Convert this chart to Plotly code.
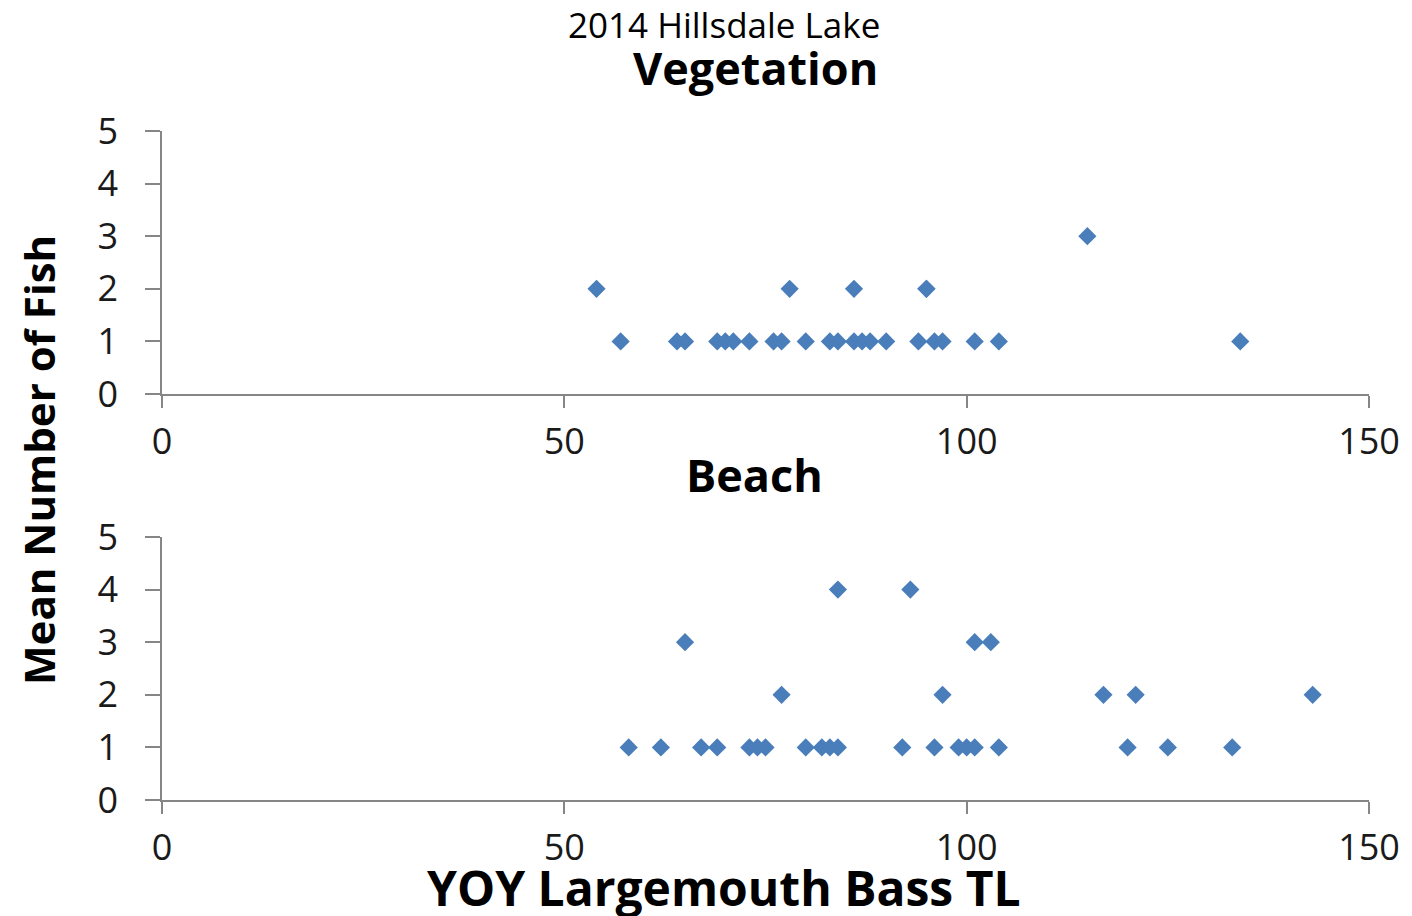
import plotly.graph_objects as go

# Vegetation (top panel)
veg_tl = [54, 78, 86, 95, 95,
          57, 64, 65, 69, 70, 71, 73, 76, 77, 80, 83, 84, 86, 87, 88, 90, 94, 96, 97, 101, 104,
          115, 134]
veg_n = [2, 2, 2, 2, 2,
         1, 1, 1, 1, 1, 1, 1, 1, 1, 1, 1, 1, 1, 1, 1, 1, 1, 1, 1, 1, 1,
         3, 1]

# Beach (bottom panel)
beach_tl = [84, 93,
            65, 101, 103,
            77, 97, 117, 121, 143,
            58, 62, 67, 69, 73, 74, 75, 80, 82, 83, 84, 92, 96, 99, 100, 101, 104, 120, 125, 133]
beach_n = [4, 4,
           3, 3, 3,
           2, 2, 2, 2, 2,
           1, 1, 1, 1, 1, 1, 1, 1, 1, 1, 1, 1, 1, 1, 1, 1, 1, 1, 1, 1]

x_ticks = [0, 50, 100, 150]
y_ticks = [0, 1, 2, 3, 4, 5]

OFF = 8                      # page body margin
W, H = 1412 - OFF, 916 - OFF
FONT = "Open Sans"
MCOLOR = "#4A7EBB"
AXC = "#868686"

def px(x):
    return (x - OFF) / W

def py(y):
    return 1 - (y - OFF) / H

fig = go.Figure()
marker = dict(symbol="diamond", size=14, color=MCOLOR)
fig.add_trace(go.Scatter(x=veg_tl, y=veg_n, mode="markers", marker=marker,
                         xaxis="x", yaxis="y", showlegend=False))
fig.add_trace(go.Scatter(x=beach_tl, y=beach_n, mode="markers", marker=marker,
                         xaxis="x2", yaxis="y2", showlegend=False))

def xax(anchor):
    return dict(domain=[px(162), px(1369)], range=[0, 150], tickvals=x_ticks,
                showgrid=False, zeroline=False, showline=True, linecolor=AXC, linewidth=1.5,
                ticks="outside", ticklen=12, tickcolor=AXC, tickwidth=1.5,
                ticklabelstandoff=3, anchor=anchor, automargin=False,
                tickfont=dict(family=FONT, size=36, color="#1a1a1a"))

def yax(dom, anchor):
    return dict(domain=dom, range=[0, 5], tickvals=y_ticks,
                showgrid=False, zeroline=False, showline=True, linecolor=AXC, linewidth=1.5,
                ticks="outside", ticklen=15, tickcolor=AXC, tickwidth=1.5,
                ticklabelstandoff=20, anchor=anchor, automargin=False,
                tickfont=dict(family=FONT, size=36, color="#1a1a1a"))

fig.update_layout(
    template="none",
    width=W, height=H, margin=dict(l=0, r=0, t=0, b=0),
    paper_bgcolor="white", plot_bgcolor="white",
    xaxis=xax("y"), yaxis=yax([py(394), py(131)], "x"),
    xaxis2=xax("y2"), yaxis2=yax([py(800), py(537)], "x2"),
    font=dict(family=FONT, color="#000"),
)

def ann(text, x, y, size, bold=False, angle=0):
    fig.add_annotation(text=f"<b>{text}</b>" if bold else text,
                       x=px(x), y=py(y), xref="paper", yref="paper",
                       xanchor="center", yanchor="middle", showarrow=False,
                       textangle=angle, borderpad=0,
                       font=dict(family=FONT, size=size, color="#000"))

ann("2014 Hillsdale Lake", 724, 25, 35)
ann("Vegetation", 756, 68, 45, bold=True)
ann("Beach", 754, 474, 45, bold=True)
ann("YOY Largemouth Bass TL", 724, 887, 48, bold=True)
ann("Mean Number of Fish", 38, 460, 42, bold=True, angle=-90)

fig.write_html("out.html")
